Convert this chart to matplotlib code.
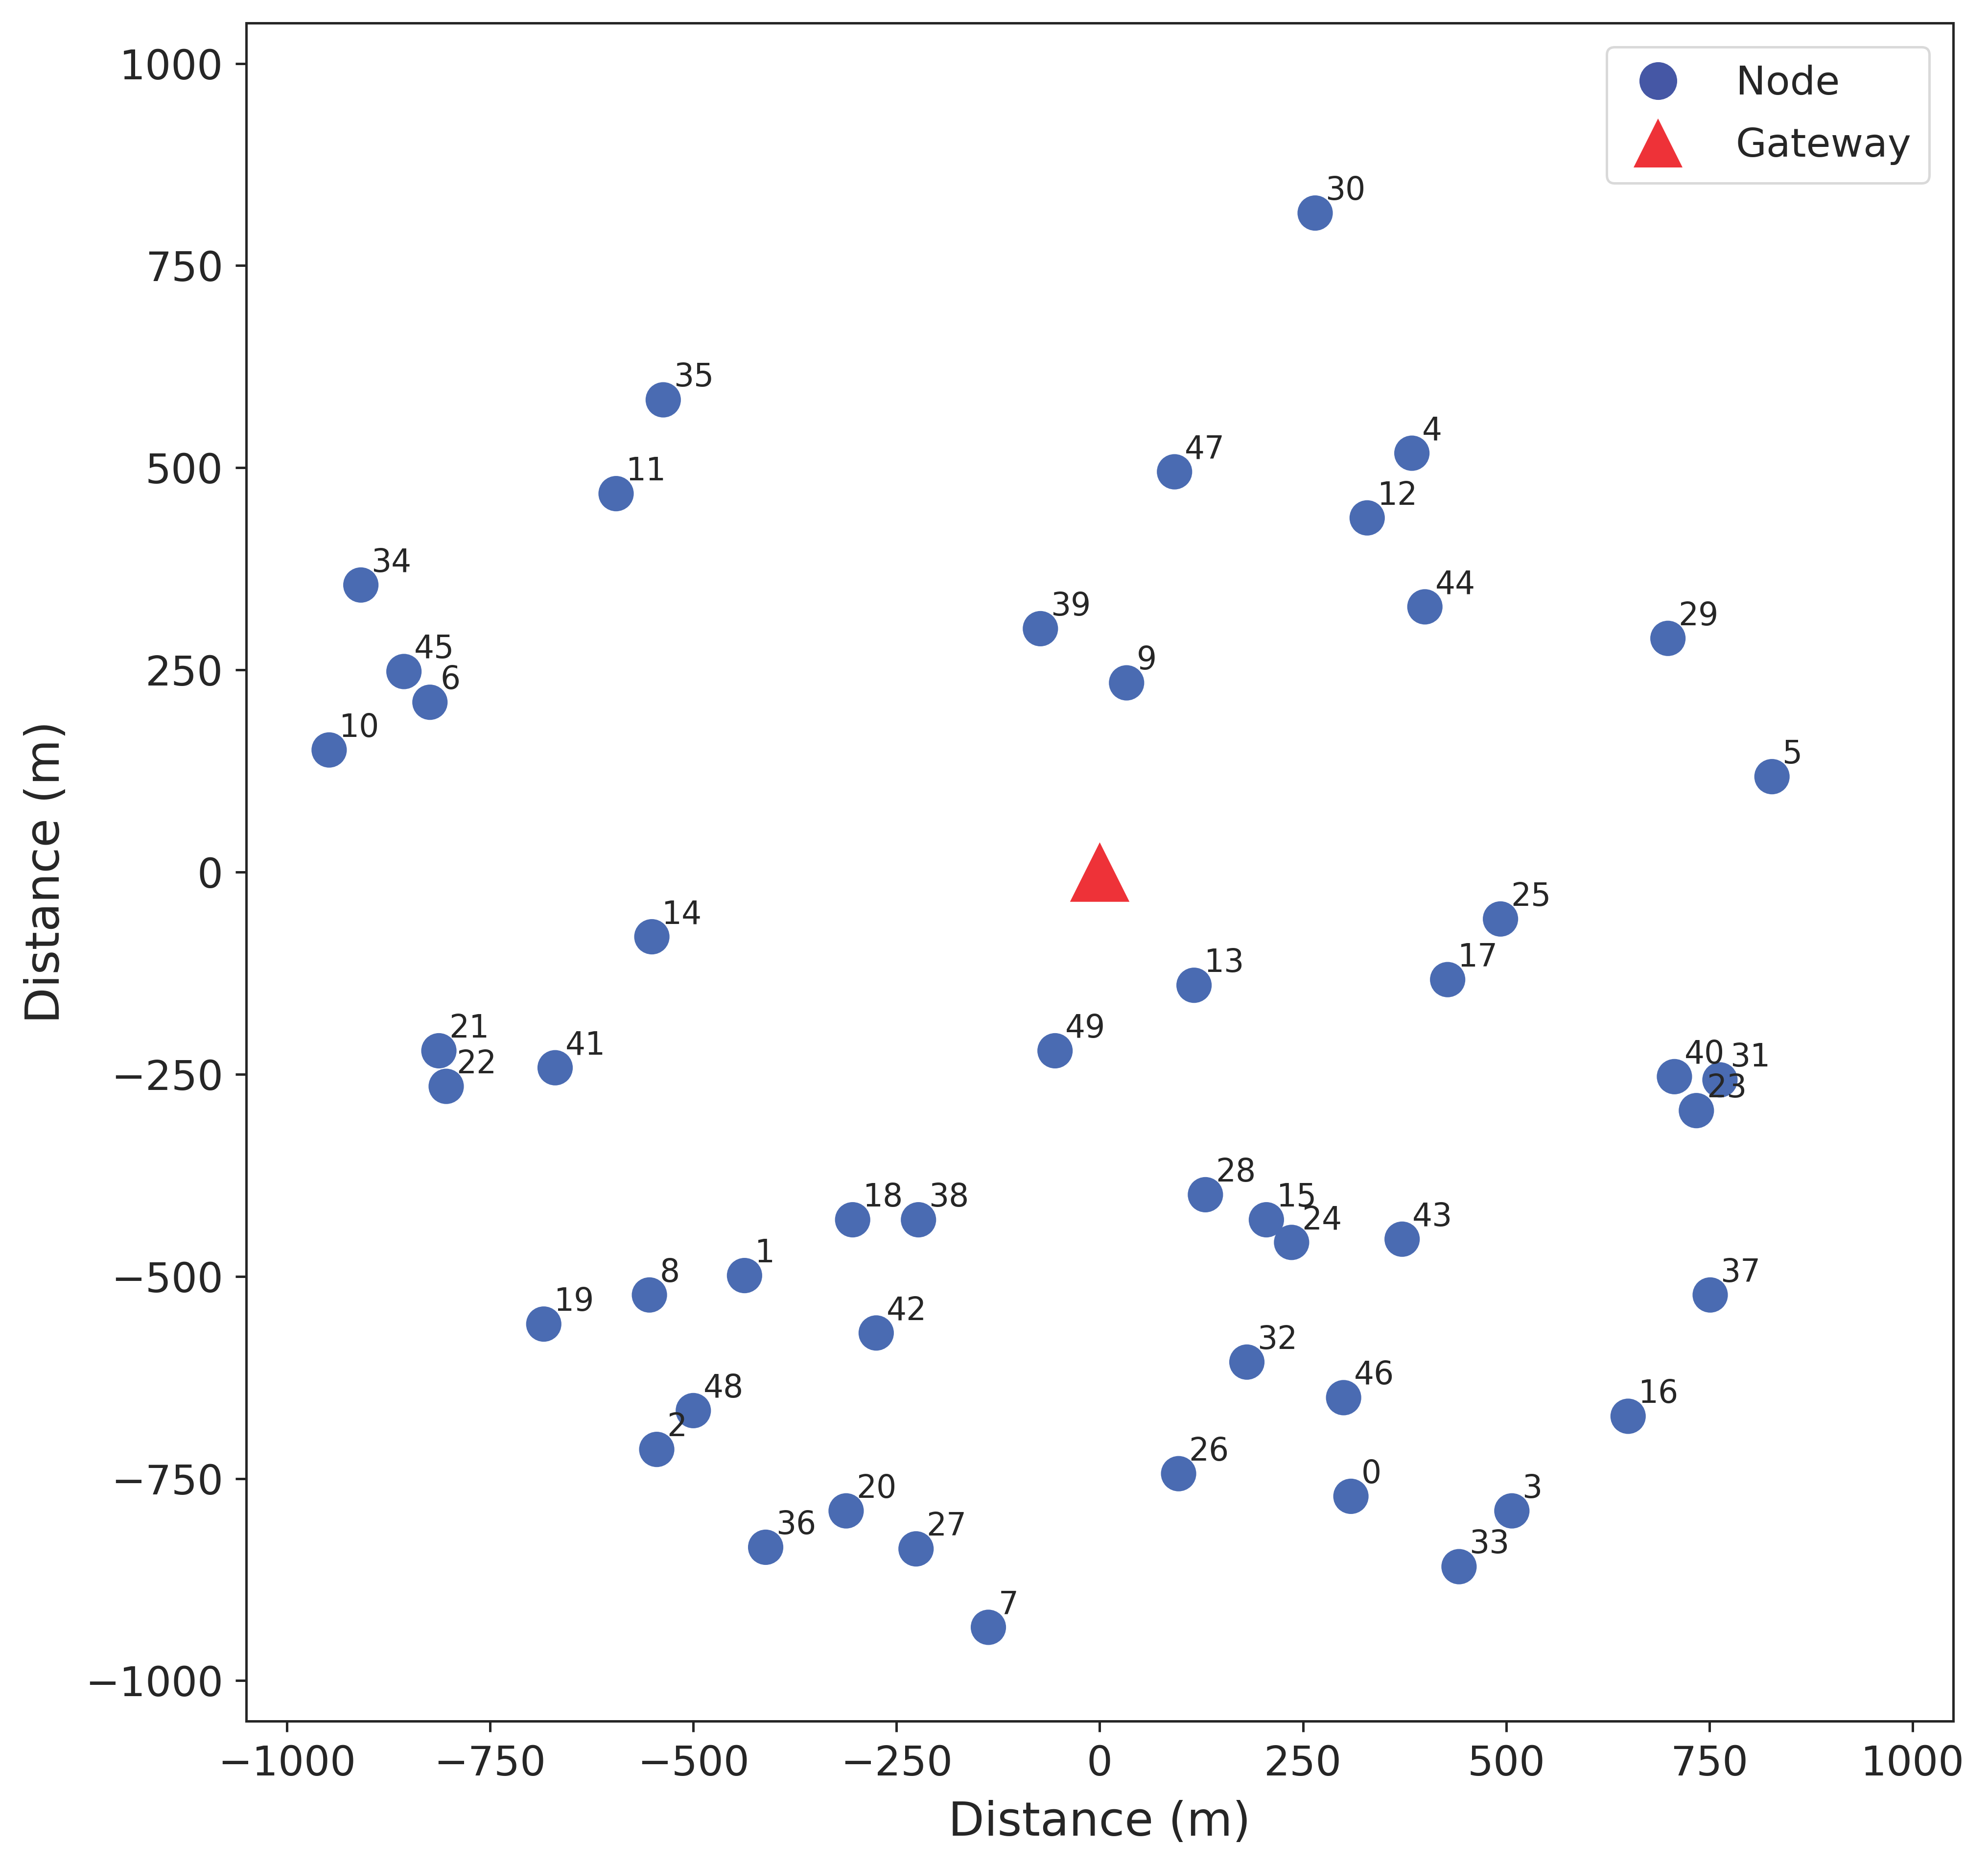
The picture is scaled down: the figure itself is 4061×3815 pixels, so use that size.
import matplotlib
matplotlib.use("Agg")
import matplotlib.pyplot as plt
from matplotlib.lines import Line2D

node_ids = list(range(50))
node_x = [309, -437, -545, 507, 384, 827, -824, -137, -554, 33,
          -948, -595, 329, 116, -551, 205, 650, 428, -304, -684,
          -312, -813, -804, 734, 236, 493, 97, -226, 130, 699,
          265, 763, 181, 442, -909, -537, -411, 751, -223, -73,
          707, -670, -275, 372, 400, -856, 300, 92, -500, -55]
node_y = [-772, -499, -714, -790, 518, 118, 210, -934, -523, 234,
          151, 468, 438, -140, -80, -430, -673, -133, -430, -559,
          -790, -221, -265, -295, -458, -58, -744, -837, -399, 289,
          815, -257, -606, -859, 355, 584, -835, -523, -430, 301,
          -253, -242, -570, -454, 328, 248, -650, 495, -666, -221]
gateway_x = [0]
gateway_y = [0]
ticks = [-1000, -750, -500, -250, 0, 250, 500, 750, 1000]

text_color = "#262626"
node_color = "#4A6BB2"
gw_color = "#EE3238"

plt.rcParams['font.family'] = ['DejaVu Sans']
fig = plt.figure(figsize=(4062/300, 3815/300), dpi=300)
ax = fig.add_axes([503/4062, 300/3815, (3990-503)/4062, (3768-300)/3815])

ax.scatter(node_x, node_y, s=300, color=node_color, edgecolors='none', zorder=3)
ax.scatter(gateway_x, gateway_y, s=850, marker='^', color=gw_color, edgecolors='none', zorder=3)

for i, x, y in zip(node_ids, node_x, node_y):
    ax.annotate(str(i), (x, y), xytext=(5, 6.5), textcoords='offset points',
                fontsize=15.5, color=text_color, zorder=4)

ax.set_xlim(-1050, 1050)
ax.set_ylim(-1050, 1050)
ax.set_xticks(ticks)
ax.set_yticks(ticks)
ax.set_xlabel("Distance (m)", fontsize=23, color=text_color, labelpad=8)
ax.set_ylabel("Distance (m)", fontsize=23, color=text_color, labelpad=8)
ax.tick_params(axis='both', labelsize=20, colors=text_color, length=5.3, width=1.2, pad=6)
for sp in ax.spines.values():
    sp.set_color(text_color)
    sp.set_linewidth(1.2)

handles = [
    Line2D([], [], marker='o', linestyle='none', markersize=18.5, markerfacecolor="#4557A5",
           markeredgecolor='none', label='Node'),
    Line2D([], [], marker='^', linestyle='none', markersize=24, markerfacecolor=gw_color,
           markeredgecolor='none', label='Gateway'),
]
leg = ax.legend(handles=handles, loc='upper right', fontsize=19.5, frameon=True,
                borderpad=0.45, labelspacing=0.6, handletextpad=1.1, handlelength=1.7,
                borderaxespad=0.6)
leg.get_frame().set_edgecolor('#d0d0d0')
leg.get_frame().set_linewidth(1.2)
for t in leg.get_texts():
    t.set_color(text_color)

fig.savefig("out.png", dpi=300)
